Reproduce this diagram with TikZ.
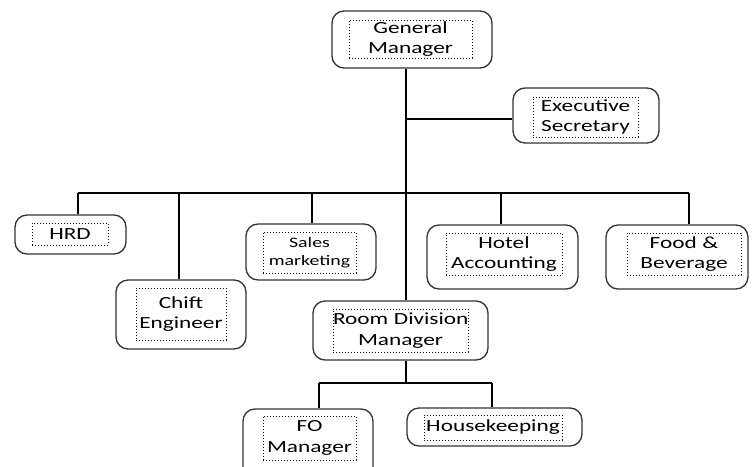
\documentclass[tikz,border=0pt]{standalone}
\usepackage{fontspec}
\setmainfont{Carlito}[FakeStretch=1.37]
\usepackage{tikz}
\tikzstyle{unit} = [rectangle, rounded corners=12pt, draw=black!80, line width=1.3pt, inner sep=0pt]
\tikzstyle{txtbox} = [rectangle, draw=black, dotted, line width=1pt, inner sep=0pt, align=center, font=\fontsize{17}{20.5}\selectfont, text=black]
\tikzstyle{smalltxt} = [font=\fontsize{14.5}{18}\selectfont]
\tikzstyle{link} = [draw=black, line width=1.3pt]

\begin{document}
\begin{tikzpicture}[x=1pt, y=-1pt]
    \useasboundingbox (0,0) rectangle (755,466);

    % Outer boxes
    \node[unit, minimum width=160, minimum height=57] (gm) at (412,39.5) {};
    \node[unit, minimum width=146, minimum height=55] (es) at (586,115.5) {};
    \node[unit, minimum width=111, minimum height=39] (hrd) at (70.5,234.5) {};
    \node[unit, minimum width=130, minimum height=56] (sm) at (311,252) {};
    \node[unit, minimum width=151, minimum height=64] (ha) at (502.5,257) {};
    \node[unit, minimum width=142, minimum height=64] (fb) at (677,257) {};
    \node[unit, minimum width=130, minimum height=69] (ce) at (181,314.5) {};
    \node[unit, minimum width=175, minimum height=59] (rdm) at (400.5,330.5) {};
    \node[unit, minimum width=130, minimum height=71] (fo) at (308,444.5) {};
    \node[unit, minimum width=175, minimum height=38] (hk) at (494.5,427) {};

    % Text boxes
    \node[txtbox, text width=123, minimum height=38] (gm-txt) at (410.5,39) {General\\Manager};
    \node[txtbox, text width=105, minimum height=40] (es-txt) at (585.5,117) {Executive\\Secretary};
    \node[txtbox, text width=76, minimum height=22] (hrd-txt) at (70,234) {HRD};
    \node[txtbox, smalltxt, text width=93, minimum height=41] (sm-txt) at (309.5,252.5) {Sales\\marketing};
    \node[txtbox, text width=116, minimum height=42] (ha-txt) at (504,254) {Hotel\\Accounting};
    \node[txtbox, text width=114, minimum height=42] (fb-txt) at (684,254) {Food \&\\Beverage};
    \node[txtbox, text width=90, minimum height=52] (ce-txt) at (181,314) {Chift\\Engineer};
    \node[txtbox, text width=135, minimum height=43] (rdm-txt) at (400.5,330.5) {\mbox{Room Division}\\Manager};
    \node[txtbox, text width=93, minimum height=44] (fo-txt) at (309.5,438) {FO\\Manager};
    \node[txtbox, text width=138, minimum height=25] (hk-txt) at (493,427.5) {Housekeeping};

    % Connectors
    \coordinate (bus) at (406,193);
    \coordinate (es-in) at (406,119);
    \coordinate (sub) at (406,383);
    \draw[link] (gm.south -| bus) -- (rdm.north -| bus);
    \draw[link] (es-in) -- (es-in -| es.west);
    \coordinate (d-hrd) at (78,193);
    \coordinate (d-ce) at (179,193);
    \coordinate (d-sm) at (312,193);
    \coordinate (d-ha) at (501,193);
    \coordinate (d-fb) at (689,193);
    \draw[link] (d-hrd) -- (d-fb);
    \foreach \n in {hrd, ce, sm, ha, fb}
        \draw[link] (d-\n) -- (d-\n |- \n.north);
    \coordinate (d-fo) at (319,383);
    \coordinate (d-hk) at (492,383);
    \draw[link] (rdm.south -| sub) -- (sub);
    \draw[link] (d-fo) -- (d-hk);
    \foreach \n in {fo, hk}
        \draw[link] (d-\n) -- (d-\n |- \n.north);
\end{tikzpicture}
\end{document}
